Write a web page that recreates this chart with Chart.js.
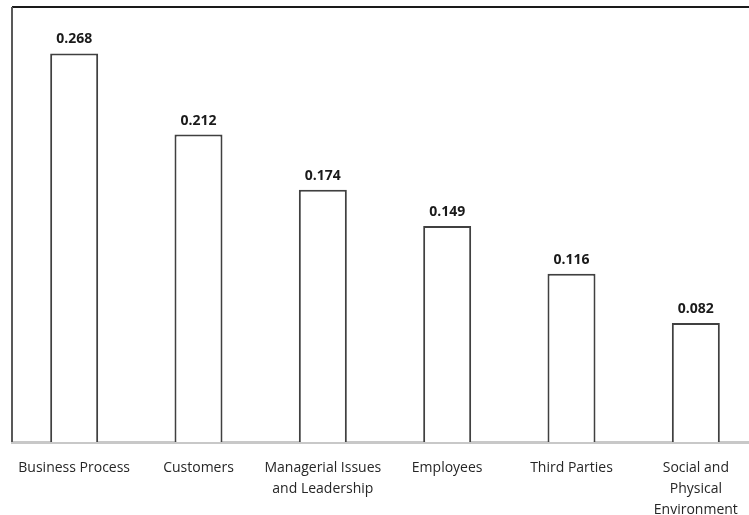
<!DOCTYPE html>
<html>
<head>
<meta charset="utf-8">
<script src="https://cdn.jsdelivr.net/npm/chart.js@4"></script>
<style>
  html, body { margin: 0; padding: 0; background: #ffffff; overflow: hidden; }
  #wrap { width: 749px; height: 515px; overflow: hidden; }
</style>
</head>
<body>
<div id="wrap"><canvas id="factorChart" width="770" height="529"></canvas></div>
<script>
// Factor weights per category
const categories = [
    'Business Process',
    'Customers',
    ['Managerial Issues', 'and Leadership'],
    'Employees',
    'Third Parties',
    ['Social and', 'Physical', 'Environment']
];
const weights = [0.268, 0.212, 0.174, 0.149, 0.116, 0.082];
const yMin = 0;
const yMax = 0.3;

// Frame lines on top and left of the plot area
const framePlugin = {
    id: 'frame',
    afterDraw(chart) {
        const { ctx, chartArea } = chart;
        ctx.save();
        ctx.strokeStyle = '#1a1a1a';
        ctx.lineWidth = 2;
        ctx.beginPath();
        ctx.moveTo(chartArea.left, chartArea.top);
        ctx.lineTo(chartArea.right + 20, chartArea.top);
        ctx.stroke();
        ctx.strokeStyle = '#595959';
        ctx.beginPath();
        ctx.moveTo(chartArea.left, chartArea.top);
        ctx.lineTo(chartArea.left, chartArea.bottom);
        ctx.stroke();
        ctx.restore();
    }
};

// Value written above each bar
const valueLabels = {
    id: 'valueLabels',
    afterDatasetsDraw(chart) {
        const { ctx } = chart;
        const meta = chart.getDatasetMeta(0);
        ctx.save();
        ctx.font = 'bold 14px "Open Sans"';
        ctx.fillStyle = '#1a1a1a';
        ctx.textAlign = 'center';
        ctx.textBaseline = 'bottom';
        meta.data.forEach((bar, i) => {
            ctx.fillText(weights[i].toFixed(3), bar.x, bar.y - 7);
        });
        ctx.restore();
    }
};

const ctx = document.getElementById('factorChart').getContext('2d');
const factorChart = new Chart(ctx, {
    type: 'bar',
    data: {
        labels: categories,
        datasets: [{
            data: weights,
            backgroundColor: '#ffffff',
            borderColor: '#404040',
            borderWidth: 2,
            borderSkipped: 'bottom',
            categoryPercentage: 1,
            barPercentage: 0.386
        }]
    },
    options: {
        responsive: false,
        animation: false,
        layout: {
            padding: { left: 12, right: 12, top: 7, bottom: 0 }
        },
        plugins: {
            legend: { display: false },
            tooltip: { enabled: false }
        },
        scales: {
            x: {
                grid: { display: false },
                border: { color: '#c8c8c8', width: 3 },
                ticks: {
                    color: '#262626',
                    font: { family: '"Open Sans"', size: 14, lineHeight: 1.5 },
                    padding: 8,
                    maxRotation: 0,
                    autoSkip: false
                }
            },
            y: {
                display: false,
                min: yMin,
                max: yMax
            }
        }
    },
    plugins: [framePlugin, valueLabels]
});
</script>
</body>
</html>
